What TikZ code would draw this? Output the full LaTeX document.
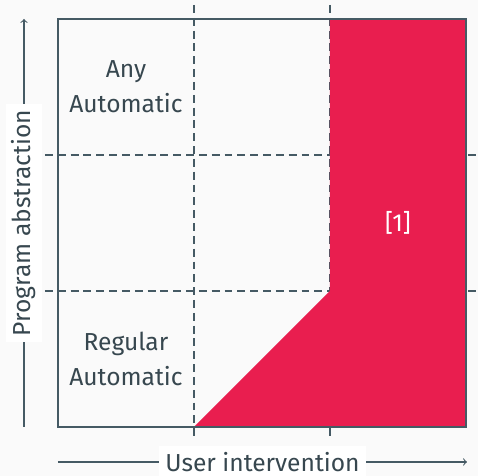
\documentclass[tikz,border=0pt]{standalone}
\usepackage{fontspec}
\setmainfont{Fira Sans}
\definecolor{ink}{HTML}{37474F}
\definecolor{rim}{HTML}{455A64}
\definecolor{crimson}{HTML}{E91E4F}
\definecolor{paper}{HTML}{FAFAFA}
\begin{document}
\begin{tikzpicture}[
  x=0.02cm, y=-0.02cm,
  every node/.style={
    font=\fontsize{14}{20}\selectfont,
    text=ink,
    align=center
  },
  grid line/.style={draw=rim, line width=0.8pt, dash pattern=on 4.5pt off 2.8pt},
  axis/.style={draw=rim, line width=0.6pt, ->},
  axis label/.style={fill=white, inner sep=3.5pt}
]
\useasboundingbox[fill=paper] (0,0) rectangle (478,476);

\coordinate (nw) at (58,19);
\coordinate (se) at (466,427);

% dashed grid
\draw[grid line] (194,5) -- (194,441);
\draw[grid line] (330,5) -- (330,441);
\draw[grid line] (45,155) -- (478,155);
\draw[grid line] (45,291) -- (478,291);

% region [1]
\fill[crimson] (194,427) -- (330,291) -- (330,19) -- (466,19) -- (466,427) -- cycle;
\draw[rim, line width=0.8pt] (nw) rectangle (se);

\node (any) at (126,87) {Any\\ Automatic};
\node (regular) at (126,359) {Regular\\ Automatic};
\node (ref) [text=white] at (398,223) {[1]};

% axes
\coordinate (ylow) at (24,427);
\coordinate (yhigh) at (24,19);
\coordinate (xlow) at (58,462);
\coordinate (xhigh) at (467,462);
\draw[axis] (ylow) -- (yhigh) node[midway, axis label, rotate=90] {Program abstraction};
\draw[axis] (xlow) -- (xhigh) node[midway, axis label] {User intervention};
\end{tikzpicture}
\end{document}
